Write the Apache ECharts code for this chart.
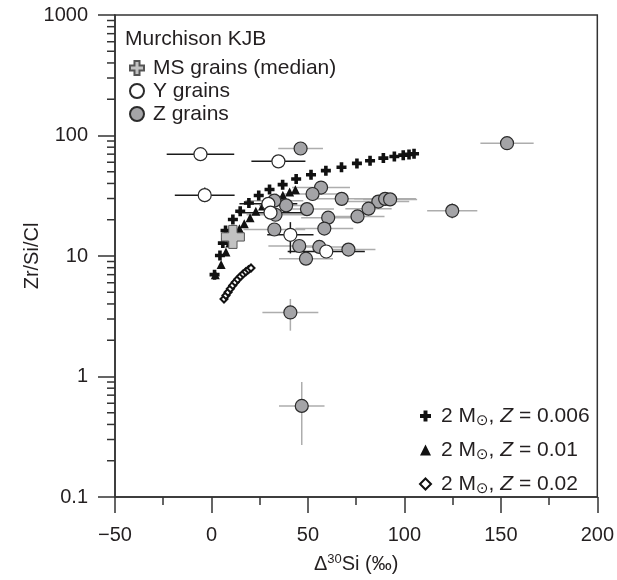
<!DOCTYPE html>
<html>
<head>
<meta charset="utf-8">
<script src="https://cdn.jsdelivr.net/npm/echarts@6/dist/echarts.min.js"></script>
<style>
html, body { margin: 0; padding: 0; background: #fff; }
#chart { width: 617px; height: 580px; }
</style>
</head>
<body>
<div id="chart"></div>
<script>
// model tracks (2 Msun, three metallicities)
const z006X = [1.6, 4.4, 5.9, 7.3, 11.1, 14.9, 19.4, 24.5, 30.1, 36.9, 43.9, 51.6, 59.3, 67.4, 75.4, 82.2, 89.1, 94.8, 99.4, 102.4, 105];
const z006Y = [7.0, 10.1, 12.8, 16.3, 20.1, 23.5, 27.5, 31.8, 35.6, 39.1, 43.5, 47.3, 51.1, 54.5, 58.7, 61.7, 64.9, 67, 68.7, 69.7, 70.5];
const z01X = [2, 5, 7.5, 9.5, 12, 14.5, 17, 20, 23, 26.5, 30, 33.5, 37, 40.5, 43.5];
const z01Y = [7.0, 8.5, 10.8, 12.8, 15, 16.8, 18.5, 20.8, 23.5, 26, 28.5, 30.5, 32, 34, 35.5];
const z02X = [6.5, 7.5, 8.6, 9.8, 11, 12.3, 13.6, 15, 16.4, 17.8, 19.2, 20.5];
const z02Y = [4.4, 4.7, 5.0, 5.35, 5.7, 6.05, 6.4, 6.75, 7.1, 7.4, 7.7, 7.95];
const modelZ = ['0.006', '0.01', '0.02'];

// Z grains
const zX = [46.2, 153.2, 124.8, 56.8, 52.4, 67.5, 86.5, 90.0, 92.6, 81.4, 75.7, 60.5, 58.5, 49.5, 38.7, 32.6, 33.2, 32.6, 45.5, 55.9, 71.0, 49.0, 40.9, 46.8];
const zY = [78, 86.3, 23.7, 37, 32.7, 29.8, 28.3, 29.8, 29.5, 24.7, 21.3, 20.8, 16.9, 24.5, 26.3, 28.8, 22, 16.6, 12.1, 11.9, 11.3, 9.5, 3.4, 0.57];
const zXErr = [11.6, 13.8, 13, 15, 15, 14, 16, 16, 14, 12, 14, 14, 15, 14, 14, 15, 15, 16, 16, 14, 14, 14, 14.5, 11.8];
const zYLo = [72, 80, 20.5, 34, 30, 26, 26.5, 27.5, 27.5, 21.5, 18.8, 19.2, 15.5, 22.5, 24.5, 26.5, 20.5, 15.3, 11, 11, 10.4, 8.7, 2.4, 0.27];
const zYHi = [84, 93, 27.5, 40, 35.5, 34, 30.5, 32.5, 31.5, 28, 24, 22.5, 18.5, 26.5, 28.5, 31.5, 23.8, 18.1, 13.3, 12.9, 12.3, 10.4, 4.4, 0.9];

// Y grains
const yX = [-5.7, 34.7, -3.5, 29.5, 30.6, 40.9, 59.5];
const yY = [70, 61, 32, 27.1, 22.9, 15, 10.9];
const yXErr = [17.5, 14, 15.5, 15, 17, 12, 20];
const yYLo = [66, 57, 28, 25.5, 21.5, 10.5, 10.2];
const yYHi = [74, 65, 37, 28.8, 24.4, 19.1, 11.7];

// mainstream grains median
const msX = [11.1];
const msY = [14.4];

// log axis minor ticks
const yMinor = [0.2, 0.3, 0.4, 0.5, 0.6, 0.7, 0.8, 0.9, 2, 3, 4, 5, 6, 7, 8, 9, 20, 30, 40, 50, 60, 70, 80, 90, 200, 300, 400, 500, 600, 700, 800, 900];

const xMin = -50, xMax = 200;
const ink = '#231f20';
const font = "'Liberation Sans', Arial, sans-serif";
const plusPath = 'path://M3.2,0H6.8V3.2H10V6.8H6.8V10H3.2V6.8H0V3.2H3.2Z';

const pairs = (xs, ys) => xs.map((x, i) => [x, ys[i]]);
const errRows = (xs, ys, xe, lo, hi) => xs.map((x, i) => [x, ys[i], xe[i], lo[i], hi[i]]);

function errRender(color) {
  return function (params, api) {
    const x = api.value(0), y = api.value(1), xe = api.value(2);
    const l = api.coord([x - xe, y]), r = api.coord([x + xe, y]);
    const lo = api.coord([x, api.value(3)]), hi = api.coord([x, api.value(4)]);
    const style = { stroke: color, lineWidth: 1.5 };
    return {
      type: 'group',
      children: [
        { type: 'line', shape: { x1: l[0], y1: l[1], x2: r[0], y2: r[1] }, style: style },
        { type: 'line', shape: { x1: lo[0], y1: lo[1], x2: hi[0], y2: hi[1] }, style: style }
      ]
    };
  };
}

const modelNames = modelZ.map(z => '2 M\u2299, Z = ' + z);

const chart = echarts.init(document.getElementById('chart'), null, { renderer: 'canvas' });

chart.setOption({
  animation: false,
  textStyle: { fontFamily: font, color: ink },
  title: {
    text: 'Murchison KJB',
    left: 125,
    top: 29,
    padding: 0,
    textStyle: { fontFamily: font, fontSize: 21, fontWeight: 'normal', color: ink }
  },
  legend: [
    {
      data: ['MS grains (median)', 'Y grains', 'Z grains'],
      orient: 'vertical',
      left: 129,
      top: 57,
      padding: 0,
      itemGap: 1,
      itemWidth: 14,
      itemHeight: 14,
      selectedMode: false,
      textStyle: { fontFamily: font, fontSize: 21, lineHeight: 22, color: ink, padding: [0, 0, 0, 4] }
    },
    {
      data: modelNames,
      orient: 'vertical',
      left: 419,
      top: 403,
      padding: 0,
      itemGap: 8,
      itemWidth: 11,
      itemHeight: 11,
      selectedMode: false,
      formatter: function (name) {
        return name.replace('\u2299', '{sub|\u2299}').replace('Z =', '{i|Z} =');
      },
      textStyle: {
        fontFamily: font, fontSize: 21, lineHeight: 23, color: ink, padding: [0, 0, 0, 5],
        rich: {
          sub: { fontFamily: "'DejaVu Sans', sans-serif", fontSize: 15, lineHeight: 12, padding: [11, 0, 0, 0], color: ink },
          i: { fontFamily: font, fontSize: 21, fontStyle: 'italic', color: ink }
        }
      }
    }
  ],
  grid: {
    left: 115, right: 18, top: 15, bottom: 79,
    show: true, borderColor: '#333', borderWidth: 1.5
  },
  xAxis: {
    type: 'value',
    min: xMin,
    max: xMax,
    interval: 50,
    name: '\u0394{sup|30}Si (\u2030)',
    nameLocation: 'middle',
    nameGap: 57,
    nameTextStyle: {
      fontFamily: font, fontSize: 20, color: ink,
      rich: { sup: { fontFamily: font, fontSize: 13, lineHeight: 13, padding: [0, 0, 9, 0], color: ink } }
    },
    axisLine: { onZero: false, lineStyle: { color: '#333', width: 1.5 } },
    axisTick: { length: 16, lineStyle: { color: '#333', width: 1.5 } },
    minorTick: { show: true, splitNumber: 2, length: 8, lineStyle: { color: '#333', width: 1.5 } },
    splitLine: { show: false },
    axisLabel: {
      fontFamily: font, fontSize: 20, color: ink, margin: 28,
      formatter: v => String(v).replace('-', '\u2212')
    }
  },
  yAxis: {
    type: 'log',
    logBase: 10,
    min: 0.1,
    max: 1000,
    name: 'Zr/Si/Cl',
    nameLocation: 'middle',
    nameGap: 73,
    nameMoveOverlap: false,
    nameTextStyle: { fontFamily: font, fontSize: 20, color: ink },
    axisLine: { onZero: false, lineStyle: { color: '#333', width: 1.5 } },
    axisTick: { length: 17, lineStyle: { color: '#333', width: 1.5 } },
    splitLine: { show: false },
    axisLabel: {
      fontFamily: font, fontSize: 20, color: ink, margin: 27,
      formatter: v => (v >= 1 ? String(Math.round(v)) : String(+v.toFixed(1)))
    }
  },
  series: [
    {
      name: 'minor',
      type: 'custom',
      silent: true,
      clip: false,
      encode: { x: 0, y: 1 },
      data: yMinor.map(v => [xMin, v]),
      renderItem: function (params, api) {
        const p = api.coord([api.value(0), api.value(1)]);
        return { type: 'line', shape: { x1: p[0] - 8, y1: p[1], x2: p[0], y2: p[1] }, style: { stroke: '#333', lineWidth: 1.5 } };
      },
      z: 1
    },
    {
      name: 'zErr',
      type: 'custom',
      silent: true,
      encode: { x: 0, y: 1 },
      data: errRows(zX, zY, zXErr, zYLo, zYHi),
      renderItem: errRender('#adadad'),
      z: 1
    },
    {
      name: 'yErr',
      type: 'custom',
      silent: true,
      encode: { x: 0, y: 1 },
      data: errRows(yX, yY, yXErr, yYLo, yYHi),
      renderItem: errRender('#1a1a1a'),
      z: 2
    },
    {
      name: modelNames[0],
      type: 'scatter',
      symbol: plusPath,
      symbolSize: 10,
      itemStyle: { color: '#111', opacity: 1 },
      data: pairs(z006X, z006Y),
      z: 3
    },
    {
      name: modelNames[1],
      type: 'scatter',
      symbol: 'triangle',
      symbolSize: 9,
      itemStyle: { color: '#111', opacity: 1 },
      data: pairs(z01X, z01Y),
      z: 4
    },
    {
      name: modelNames[2],
      type: 'scatter',
      symbol: 'diamond',
      symbolSize: 7,
      itemStyle: { color: '#fff', borderColor: '#111', borderWidth: 2, opacity: 1 },
      data: pairs(z02X, z02Y),
      z: 4
    },
    {
      name: 'Z grains',
      type: 'scatter',
      symbol: 'circle',
      symbolSize: 13,
      itemStyle: { color: '#a4a4a7', borderColor: '#2b2b2b', borderWidth: 1.2, opacity: 1 },
      data: pairs(zX, zY),
      z: 5
    },
    {
      name: 'Y grains',
      type: 'scatter',
      symbol: 'circle',
      symbolSize: 13,
      itemStyle: { color: '#fff', borderColor: '#2b2b2b', borderWidth: 1.2, opacity: 1 },
      data: pairs(yX, yY),
      z: 6
    },
    {
      name: 'MS grains (median)',
      type: 'scatter',
      symbol: plusPath,
      symbolSize: 23,
      itemStyle: { color: '#c2c2c2', borderColor: '#555', borderWidth: 1, opacity: 1 },
      data: pairs(msX, msY),
      z: 7
    }
  ]
});
</script>
</body>
</html>
